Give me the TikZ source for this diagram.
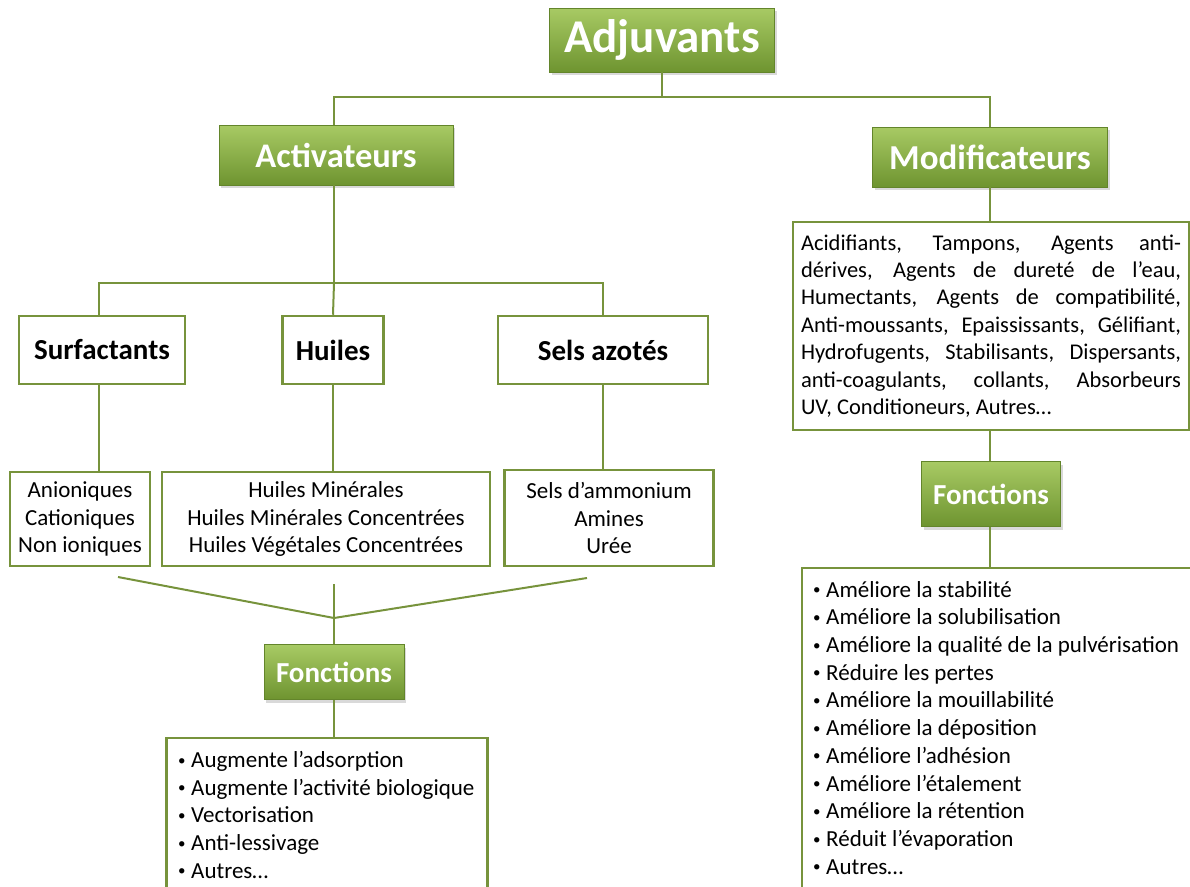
\documentclass[tikz,border=0pt]{standalone}
\usepackage{fontspec}
\setmainfont{Carlito}
\usetikzlibrary{shadows}
\definecolor{greenTop}{RGB}{168,202,100}
\definecolor{greenBot}{RGB}{110,148,48}
\definecolor{greenLine}{RGB}{119,147,60}
\hbadness=10000
\newcommand{\dotItem}{\makebox[13pt][l]{\raisebox{0.22ex}{\fontsize{15}{15}\selectfont•}}}

\begin{document}
\begin{tikzpicture}[x = 1pt, y = -1pt]
	\tikzstyle{headStyle} = [shape = rectangle, inner sep = 0pt, top color = greenTop, bottom color = greenBot, draw = greenBot!90!black, line width = 0.6pt, text = white, font = \bfseries, drop shadow = {shadow xshift = 2pt, shadow yshift = -3pt, opacity = 0.3}]
	\tikzstyle{boxStyle} = [shape = rectangle, inner sep = 0pt, draw = greenLine, line width = 2.5pt, fill = white]
	\tikzstyle{listStyle} = [inner sep = 0pt, align = left, font = \fontsize{23}{27.7}\selectfont]
	\tikzstyle{edgeStyle} = [draw = greenLine, line width = 2pt]
	\useasboundingbox (0,0) rectangle (1190,886);
	\node[headStyle, minimum width = 225pt, minimum height = 64pt, font = \fontsize{47}{50}\selectfont\bfseries] (adj) at (662, 40) {Adjuvants};
	\node[headStyle, minimum width = 234pt, minimum height = 60pt, font = \fontsize{34.5}{36}\selectfont\bfseries] (act) at (336, 155) {Activateurs};
	\node[headStyle, minimum width = 235pt, minimum height = 60pt, font = \fontsize{35}{36}\selectfont\bfseries] (mod) at (990, 157) {Modificateurs};
	\node[boxStyle, minimum width = 166pt, minimum height = 68pt, font = \fontsize{29}{30}\selectfont\bfseries] (surf) at (102, 350) {Surfactants};
	\node[boxStyle, minimum width = 101pt, minimum height = 68pt, font = \fontsize{29}{30}\selectfont\bfseries] (huil) at (333, 350) {Huiles};
	\node[boxStyle, minimum width = 210pt, minimum height = 68pt, font = \fontsize{29}{30}\selectfont\bfseries] (sels) at (603, 350) {Sels azotés};
	\node[boxStyle, minimum width = 140pt, minimum height = 94pt, align = center, font = \fontsize{23}{27.5}\selectfont] (surfL) at (80, 519) {Anioniques\\Cationiques\\Non ioniques};
	\node[boxStyle, minimum width = 328pt, minimum height = 94pt, align = center, font = \fontsize{23}{27.5}\selectfont] (huilL) at (326, 519) {Huiles Minérales\\Huiles Minérales Concentrées\\Huiles Végétales Concentrées};
	\node[boxStyle, minimum width = 209pt, minimum height = 96pt, align = center, font = \fontsize{23}{27.5}\selectfont] (selsL) at (609, 518) {Sels d’ammonium\\Amines\\Urée};
	\node[headStyle, minimum width = 140pt, minimum height = 55pt, font = \fontsize{29}{32}\selectfont\bfseries] (fonA) at (334, 672) {Fonctions};
	\node[boxStyle, minimum width = 321pt, minimum height = 170pt] (fonAL) at (327, 823) {};
	\node[listStyle, anchor = north west] (fonAT) at (178, 751) {\dotItem Augmente l’adsorption\\\dotItem Augmente l’activité biologique\\\dotItem Vectorisation\\\dotItem Anti-lessivage\\\dotItem Autres…};
	\node[boxStyle, minimum width = 396pt, minimum height = 208pt, text width = 380pt, align = justify, font = \fontsize{22.5}{27.4}\selectfont] (modL) at (991, 326) {Acidifiants, Tampons, Agents anti-\linebreak dérives, Agents de dureté de l’eau,\linebreak Humectants, Agents de compatibilité,\linebreak Anti-moussants, Epaississants, Gélifiant,\linebreak Hydrofugents, Stabilisants, Dispersants,\linebreak anti-coagulants, collants, Absorbeurs\linebreak UV, Conditioneurs, Autres…};
	\node[headStyle, minimum width = 139pt, minimum height = 65pt, font = \fontsize{29}{32}\selectfont\bfseries] (fonB) at (991, 494) {Fonctions};
	\node[boxStyle, minimum width = 390pt, minimum height = 340pt] (fonBL) at (997, 738) {};
	\node[listStyle, anchor = north west] (fonBT) at (813, 581) {\dotItem Améliore la stabilité\\\dotItem Améliore la solubilisation\\\dotItem Améliore la qualité de la pulvérisation\\\dotItem Réduire les pertes\\\dotItem Améliore la mouillabilité\\\dotItem Améliore la déposition\\\dotItem Améliore l’adhésion\\\dotItem Améliore l’étalement\\\dotItem Améliore la rétention\\\dotItem Réduit l’évaporation\\\dotItem Autres…};
	\coordinate (j0) at (662, 97);
	\coordinate (j1) at (334, 283);
	\coordinate (f1) at (118, 577);
	\coordinate (f2) at (587, 578);
	\coordinate (f3) at (334, 618);
	\coordinate (f4) at (334, 584);
	\draw[edgeStyle] (adj.south) -- (j0);
	\draw[edgeStyle] (act.north -| j1) |- (j0) -| (mod.north);
	\draw[edgeStyle] (act.south -| j1) -- (j1);
	\draw[edgeStyle] (surf.north -| 99,0) |- (j1) -| (sels.north);
	\draw[edgeStyle] (j1) -- (huil.north);
	\draw[edgeStyle] (surf.south -| 99,0) -- (surfL.north -| 99,0);
	\draw[edgeStyle] (huil.south) -- (huilL.north -| huil.south);
	\draw[edgeStyle] (sels.south) -- (selsL.north -| sels.south);
	\draw[edgeStyle] (f1) -- (f3) -- (f2);
	\draw[edgeStyle] (f4) -- (fonA.north);
	\draw[edgeStyle] (fonA.south) -- (fonAL.north -| fonA.south);
	\draw[edgeStyle] (mod.south) -- (modL.north -| mod.south);
	\draw[edgeStyle] (modL.south -| mod.south) -- (fonB.north -| mod.south);
	\draw[edgeStyle] (fonB.south -| mod.south) -- (fonBL.north -| mod.south);
\end{tikzpicture}
\end{document}
